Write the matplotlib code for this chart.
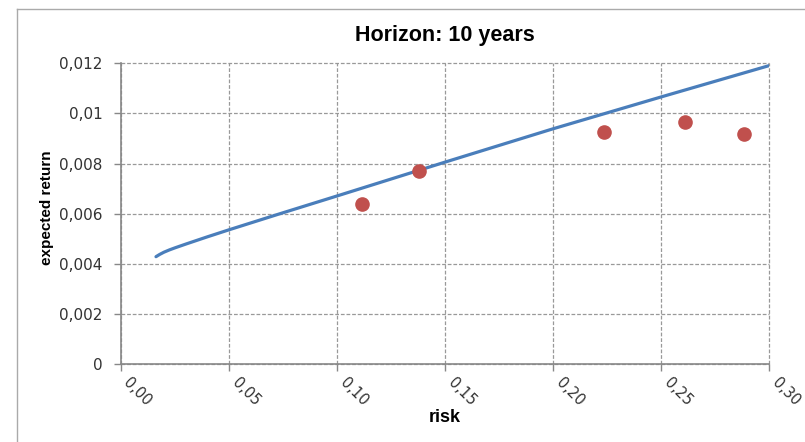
import numpy as np
import matplotlib.pyplot as plt
from matplotlib.lines import Line2D

# efficient frontier (risk, expected return)
frontier_risk = [0.0163, 0.018, 0.020, 0.0225, 0.025, 0.03, 0.04, 0.05, 0.075, 0.10,
                 0.15, 0.20, 0.25, 0.30]
frontier_ret = [0.00429, 0.00438, 0.00447, 0.00456, 0.00464, 0.00479, 0.00508, 0.00536,
                0.00604, 0.00671, 0.00806, 0.00939, 0.01066, 0.01191]

# single assets
asset_risk = [0.1116, 0.1381, 0.2237, 0.2608, 0.2883]
asset_ret = [0.00639, 0.00771, 0.00925, 0.00967, 0.00920]

x_ticks = [0.00, 0.05, 0.10, 0.15, 0.20, 0.25, 0.30]
y_ticks = [0, 0.002, 0.004, 0.006, 0.008, 0.01, 0.012]

fig = plt.figure(figsize=(8.05, 4.42), dpi=100)
ax = fig.add_axes([0.15, 0.1758, 0.8057, 0.681])

ax.plot(frontier_risk, frontier_ret, color="#4A7EBB", lw=2.3, solid_capstyle="round",
        solid_joinstyle="round", zorder=3)
ax.plot(asset_risk, asset_ret, "o", color="#C0504D", ms=9.5, zorder=4)

ax.set_xlim(0, 0.30)
ax.set_ylim(0, 0.012)
ax.set_xticks(x_ticks)
ax.set_yticks(y_ticks)
ax.set_xticklabels([f"{v:.2f}".replace(".", ",") for v in x_ticks],
                   rotation=-45, ha="left", va="top", fontsize=10.5, color="#333333")
ax.set_yticklabels([f"{v:g}".replace(".", ",") for v in y_ticks], fontsize=11, color="#333333")
ax.tick_params(axis="both", length=5, width=1, color="#888888", direction="out")
ax.tick_params(axis="x", pad=3)
ax.tick_params(axis="y", pad=8)

ax.grid(True, ls=(0, (3, 1.5)), color="#999999", lw=0.9)
for gl in ax.get_xgridlines() + ax.get_ygridlines():
    gl.set_clip_on(False)
ax.set_axisbelow(True)
for s in ["top", "right"]:
    ax.spines[s].set_visible(False)
for s in ["left", "bottom"]:
    ax.spines[s].set_color("#888888")
    ax.spines[s].set_linewidth(1.2)

ax.set_title("Horizon: 10 years", fontsize=15.5, fontweight="bold",
             family="Liberation Sans", pad=16)
ax.set_xlabel("risk", fontsize=13, fontweight="bold", family="Liberation Sans", labelpad=0)
ax.set_ylabel("expected return", fontsize=11, fontweight="bold",
              family="Liberation Sans")
ax.yaxis.set_label_coords(-0.103, 0.52)

# outer chart frame
fig.add_artist(Line2D([17 / 805, 17 / 805], [0, 1 - 9 / 442], color="#AAAAAA", lw=1))
fig.add_artist(Line2D([17 / 805, 1], [1 - 9 / 442, 1 - 9 / 442], color="#AAAAAA", lw=1))

fig.savefig("out.png", dpi=100)
